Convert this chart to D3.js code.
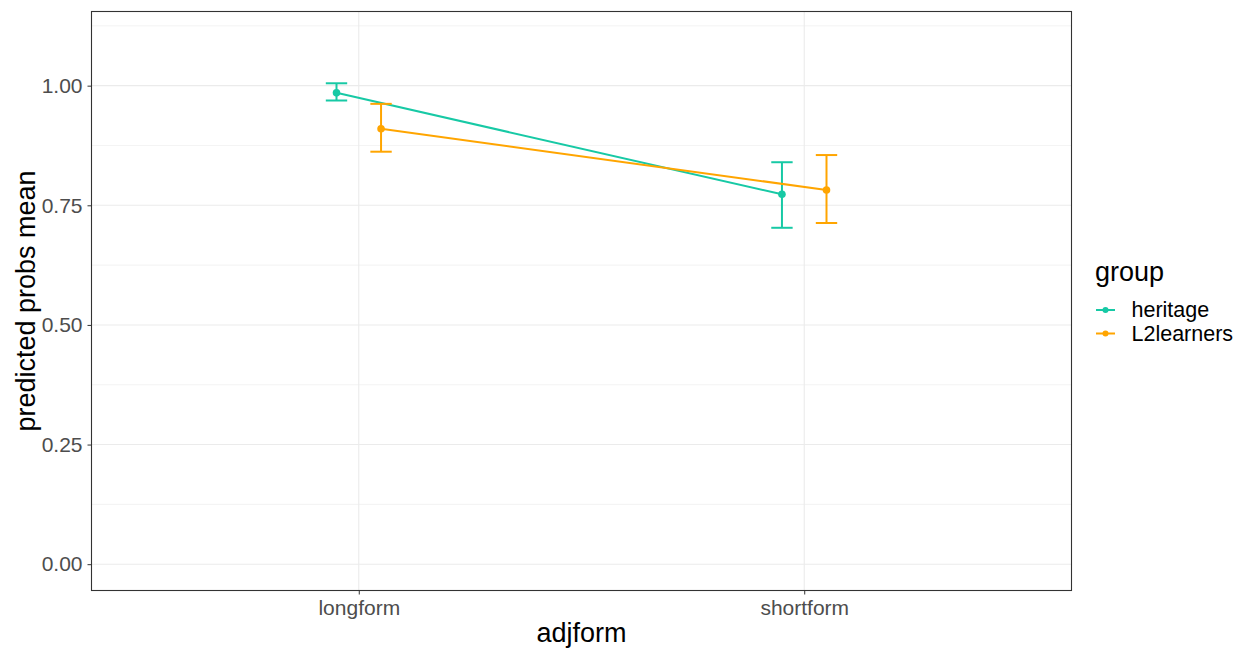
<!DOCTYPE html>
<html>
<head>
<meta charset="utf-8">
<script src="https://cdn.jsdelivr.net/npm/d3@7"></script>
<style>
  body { margin: 0; background: white; }
  text { font-family: Arial, "Liberation Sans", sans-serif; }
</style>
</head>
<body>
<div id="my_dataviz"></div>
<script>
// data
var forms = ["longform", "shortform"]
var groups = ["heritage", "L2learners"]
var colors = ["#17C9A5", "#FFA500"]
var heritageMean = [0.985, 0.773]
var heritageLow = [0.969, 0.703]
var heritageHigh = [1.005, 0.840]
var l2Mean = [0.910, 0.782]
var l2Low = [0.862, 0.713]
var l2High = [0.962, 0.855]
var yTicks = [0, 0.25, 0.5, 0.75, 1]
var yMinor = [0.125, 0.375, 0.625, 0.875, 1.125]

var series = [
  {name: groups[0], color: colors[0], mean: heritageMean, low: heritageLow, high: heritageHigh, dodge: -1},
  {name: groups[1], color: colors[1], mean: l2Mean, low: l2Low, high: l2High, dodge: 1}
]

var W = 1244, H = 651
var margin = {top: 11.5, right: 172.5, bottom: 60.5, left: 91.5},
    width = W - margin.left - margin.right,
    height = H - margin.top - margin.bottom

var svg = d3.select("#my_dataviz")
  .append("svg")
    .attr("width", W)
    .attr("height", H)
  .append("g")
    .attr("transform", "translate(" + margin.left + "," + margin.top + ")")

var x = d3.scalePoint()
  .domain(forms)
  .range([0, width])
  .padding(0.6)

var y = d3.scaleLinear()
  .domain([-0.055, 1.155])
  .range([height, 0])

var dodgePx = x.step() * 0.05
var capHalf = x.step() * 0.024

// grid
svg.append("g").selectAll("line.minor")
  .data(yMinor).enter().append("line")
    .attr("x1", 0).attr("x2", width)
    .attr("y1", function(d) { return y(d) }).attr("y2", function(d) { return y(d) })
    .attr("stroke", "#EBEBEB").attr("stroke-width", 0.6)

svg.append("g").selectAll("line.major")
  .data(yTicks).enter().append("line")
    .attr("x1", 0).attr("x2", width)
    .attr("y1", function(d) { return y(d) }).attr("y2", function(d) { return y(d) })
    .attr("stroke", "#EBEBEB").attr("stroke-width", 1.1)

svg.append("g").selectAll("line.vmajor")
  .data(forms).enter().append("line")
    .attr("y1", 0).attr("y2", height)
    .attr("x1", function(d) { return x(d) }).attr("x2", function(d) { return x(d) })
    .attr("stroke", "#EBEBEB").attr("stroke-width", 1.1)

// axes
var yAxis = svg.append("g")
  .call(d3.axisLeft(y).tickValues(yTicks).tickFormat(d3.format(".2f")).tickSize(4).tickPadding(5))
yAxis.select(".domain").remove()
yAxis.selectAll(".tick line").attr("stroke", "#333333")
yAxis.selectAll(".tick text").attr("fill", "#4D4D4D").style("font-size", "21px")

var xAxis = svg.append("g")
  .attr("transform", "translate(0," + height + ")")
  .call(d3.axisBottom(x).tickSize(4).tickPadding(5.5))
xAxis.select(".domain").remove()
xAxis.selectAll(".tick line").attr("stroke", "#333333")
xAxis.selectAll(".tick text").attr("fill", "#4D4D4D").style("font-size", "21px")

// lines, error bars, points
series.forEach(function(s) {
  var px = function(i) { return x(forms[i]) + s.dodge * dodgePx }

  svg.append("path")
    .datum(s.mean)
    .attr("fill", "none")
    .attr("stroke", s.color)
    .attr("stroke-width", 2)
    .attr("d", d3.line()
      .x(function(d, i) { return px(i) })
      .y(function(d) { return y(d) }))

  var eb = svg.append("g").selectAll("g")
    .data(s.mean).enter().append("g")
      .attr("stroke", s.color).attr("stroke-width", 2)

  eb.append("line")
    .attr("x1", function(d, i) { return px(i) }).attr("x2", function(d, i) { return px(i) })
    .attr("y1", function(d, i) { return y(s.low[i]) }).attr("y2", function(d, i) { return y(s.high[i]) })
  eb.append("line")
    .attr("x1", function(d, i) { return px(i) - capHalf }).attr("x2", function(d, i) { return px(i) + capHalf })
    .attr("y1", function(d, i) { return y(s.low[i]) }).attr("y2", function(d, i) { return y(s.low[i]) })
  eb.append("line")
    .attr("x1", function(d, i) { return px(i) - capHalf }).attr("x2", function(d, i) { return px(i) + capHalf })
    .attr("y1", function(d, i) { return y(s.high[i]) }).attr("y2", function(d, i) { return y(s.high[i]) })

  svg.append("g").selectAll("circle")
    .data(s.mean).enter().append("circle")
      .attr("cx", function(d, i) { return px(i) })
      .attr("cy", function(d) { return y(d) })
      .attr("r", 3.8)
      .attr("fill", s.color)
})

// panel border
svg.append("rect")
  .attr("x", 0).attr("y", 0)
  .attr("width", width).attr("height", height)
  .attr("fill", "none")
  .attr("stroke", "#333333")
  .attr("stroke-width", 1.1)

// axis titles
svg.append("text")
  .attr("text-anchor", "middle")
  .attr("x", width / 2)
  .attr("y", height + 51)
  .style("font-size", "27px")
  .attr("fill", "black")
  .text("adjform")

svg.append("text")
  .attr("text-anchor", "middle")
  .attr("transform", "rotate(-90)")
  .attr("x", -height / 2)
  .attr("y", -margin.left + 35)
  .style("font-size", "27px")
  .attr("fill", "black")
  .text("predicted probs mean")

// legend
var legend = svg.append("g")
  .attr("transform", "translate(" + width + ",0)")

legend.append("text")
  .attr("x", 23.5)
  .attr("y", 269.5)
  .style("font-size", "27px")
  .attr("fill", "black")
  .text("group")

var items = legend.selectAll(".item")
  .data(series).enter().append("g")
    .attr("transform", function(d, i) { return "translate(0," + (298.5 + i * 23.5) + ")" })

items.append("line")
  .attr("x1", 24.5).attr("x2", 43.5)
  .attr("y1", 0).attr("y2", 0)
  .attr("stroke", function(d) { return d.color })
  .attr("stroke-width", 2)
items.append("circle")
  .attr("cx", 34).attr("cy", 0).attr("r", 3)
  .attr("fill", function(d) { return d.color })
items.append("text")
  .attr("x", 60).attr("y", 7)
  .style("font-size", "21.5px")
  .attr("fill", "black")
  .text(function(d) { return d.name })
</script>
</body>
</html>
